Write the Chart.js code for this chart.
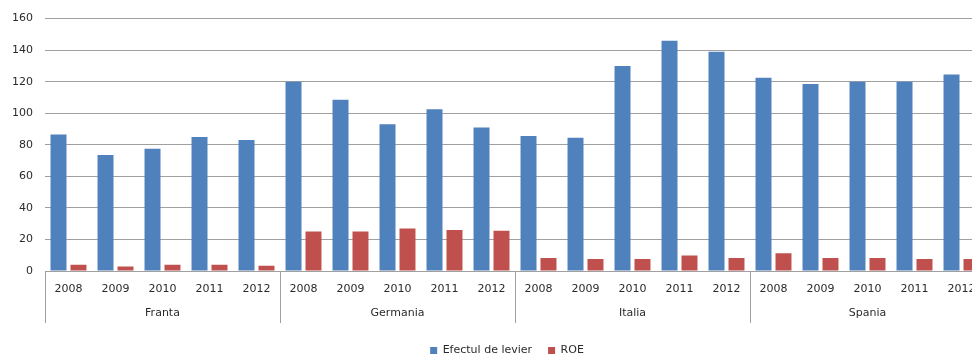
<!DOCTYPE html>
<html>
<head>
<meta charset="utf-8">
<script src="https://cdn.jsdelivr.net/npm/chart.js@4.4.1/dist/chart.umd.min.js"></script>
<style>
    html, body {
        margin: 0;
        padding: 0;
        overflow: hidden;
        background: #ffffff;
    }
    #wrap {
        position: relative;
        width: 1000px;
        height: 366px;
    }
</style>
</head>
<body>
<div id="wrap"><canvas id="levierChart"></canvas></div>
<script>
// Tari si ani
const groups = ['Franta', 'Germania', 'Italia', 'Spania'];
const years = ['2008', '2009', '2010', '2011', '2012'];

// Efectul de levier, pe tari (2008-2012)
const levierFranta = [86.5, 73.5, 77.5, 85, 83];
const levierGermania = [120, 108.5, 93, 102.5, 91];
const levierItalia = [85.5, 84.5, 130, 146, 139];
const levierSpania = [122.5, 118.5, 120, 120, 124.5];

// ROE, pe tari (2008-2012)
const roeFranta = [4, 2.8, 4, 4, 3.4];
const roeGermania = [25, 25, 27, 26, 25.5];
const roeItalia = [8.3, 7.6, 7.6, 9.8, 8.3];
const roeSpania = [11.2, 8.3, 8.3, 7.6, 7.6];

const yTicks = [0, 20, 40, 60, 80, 100, 120, 140, 160];

const labels = groups.flatMap(() => years);
const levier = [...levierFranta, ...levierGermania, ...levierItalia, ...levierSpania];
const roe = [...roeFranta, ...roeGermania, ...roeItalia, ...roeSpania];

const TEXT = '#2b2b2b';
const LINE = '#a0a0a0';
const FONT = 'DejaVu Sans';

// Second row of the category axis: country names + separators
const groupAxisPlugin = {
    id: 'groupAxis',
    afterLayout(chart) {
        // legend is centred on the whole page width, not on the plot
        chart.legend.left = 29;
    },
    afterDraw(chart) {
        const x = chart.scales.x;
        const ctx = chart.ctx;
        const half = (x.getPixelForValue(1) - x.getPixelForValue(0)) / 2;
        const top = chart.chartArea.bottom;

        ctx.save();
        ctx.strokeStyle = LINE;
        ctx.lineWidth = 1;
        ctx.fillStyle = TEXT;
        ctx.font = '11px "' + FONT + '"';
        ctx.textAlign = 'center';
        ctx.textBaseline = 'middle';

        groups.forEach((g, i) => {
            const start = x.getPixelForValue(i * years.length) - half;
            const end = x.getPixelForValue((i + 1) * years.length - 1) + half;
            ctx.beginPath();
            ctx.moveTo(Math.round(start) + 0.5, top);
            ctx.lineTo(Math.round(start) + 0.5, 323);
            ctx.stroke();
            ctx.fillText(g, (start + end) / 2, 313);
        });
        ctx.restore();
    }
};

new Chart(document.getElementById('levierChart'), {
    type: 'bar',
    data: {
        labels: labels,
        datasets: [
            {
                label: 'Efectul de levier',
                data: levier,
                backgroundColor: '#4f81bd',
                categoryPercentage: 0.85,
                barPercentage: 0.8
            },
            {
                label: 'ROE',
                data: roe,
                backgroundColor: '#c0504d',
                categoryPercentage: 0.85,
                barPercentage: 0.8
            }
        ]
    },
    options: {
        responsive: true,
        maintainAspectRatio: false,
        animation: false,
        events: [],
        layout: {
            padding: { left: 0, right: 15, top: 17, bottom: 0 }
        },
        plugins: {
            tooltip: { enabled: false },
            legend: {
                position: 'bottom',
                labels: {
                    color: TEXT,
                    font: { family: FONT, size: 11 },
                    boxWidth: 7,
                    boxHeight: 7,
                    padding: 16
                }
            }
        },
        scales: {
            x: {
                afterFit: (scale) => { scale.height = 58; },
                grid: { display: false, drawTicks: false },
                border: { display: true, color: LINE, width: 1 },
                ticks: {
                    color: TEXT,
                    font: { family: FONT, size: 11 },
                    padding: 12,
                    maxRotation: 0,
                    autoSkip: false
                }
            },
            y: {
                min: 0,
                max: 160,
                afterFit: (scale) => { scale.width = 45; },
                afterBuildTicks: (scale) => {
                    scale.ticks = yTicks.map(v => ({ value: v }));
                },
                grid: { color: LINE, drawTicks: false },
                border: { display: false },
                ticks: {
                    color: TEXT,
                    font: { family: FONT, size: 11 },
                    padding: 12
                }
            }
        }
    },
    plugins: [groupAxisPlugin]
});
</script>
</body>
</html>
